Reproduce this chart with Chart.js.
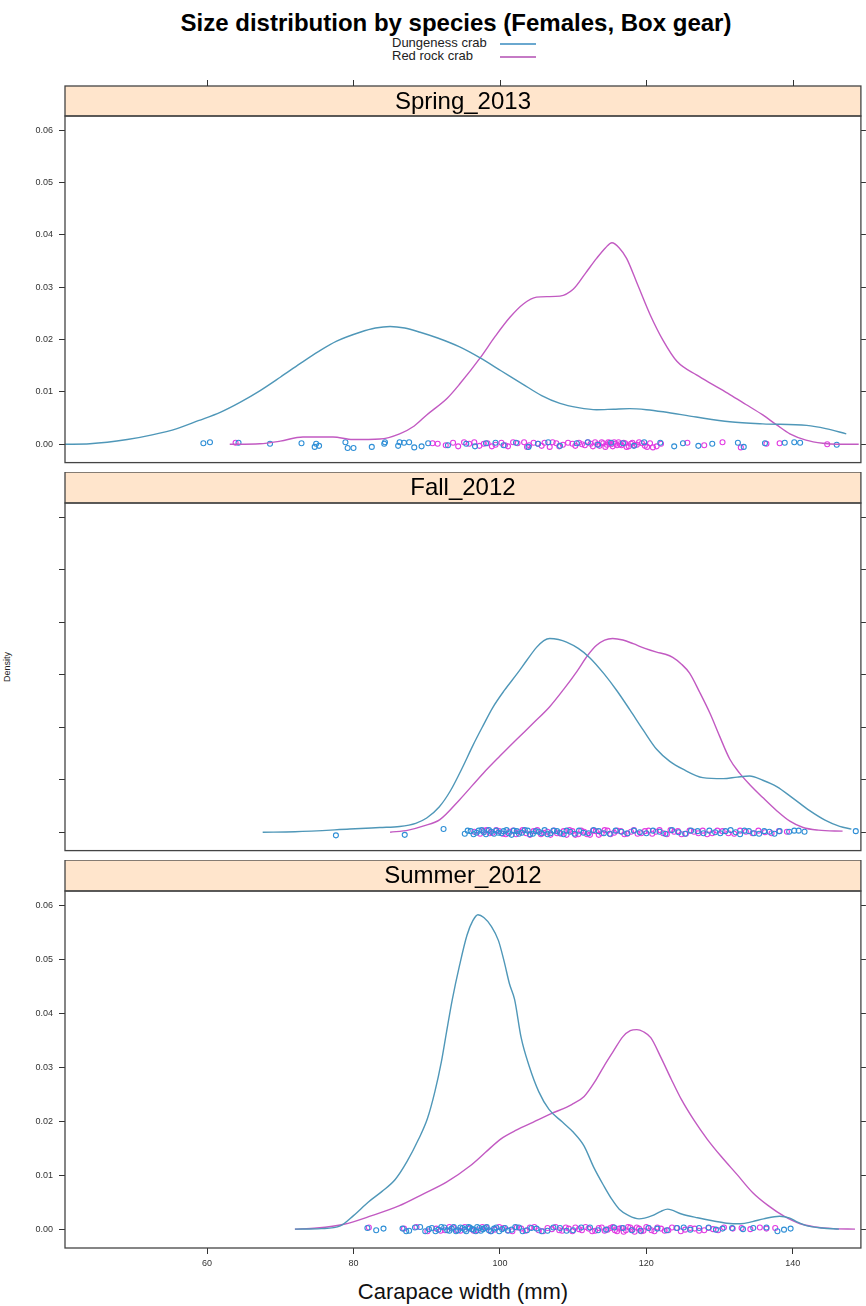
<!DOCTYPE html>
<html>
<head>
<meta charset="utf-8">
<script src="https://cdn.jsdelivr.net/npm/chart.js@4.4.1/dist/chart.umd.min.js"></script>
<style>
  html, body { margin:0; padding:0; background:#fff; }
  #wrap { position:relative; width:866px; height:1306px; overflow:hidden; font-family:"Liberation Sans", Arial, sans-serif; }
  canvas { position:absolute; left:0; }
  .txt { position:absolute; white-space:nowrap; color:#000; }
</style>
</head>
<body>
<div id="wrap">
  <div class="txt" id="title" style="left:0; width:912px; text-align:center; top:9px; font-weight:bold; font-size:24px;">Size distribution by species (Females, Box gear)</div>
  <div class="txt" style="left:392px; top:35px; font-size:13px; color:#222;">Dungeness crab</div>
  <div class="txt" style="left:392px; top:48px; font-size:13px; color:#222;">Red rock crab</div>
  <div style="position:absolute; left:500px; top:43px; width:36px; height:2px; background:#6aa8cf;"></div>
  <div style="position:absolute; left:500px; top:56px; width:36px; height:2px; background:#c57ac5;"></div>
  <div class="txt" style="left:-8px; top:662px; font-size:9px; transform:rotate(-90deg); color:#222;">Density</div>
  <div class="txt" style="left:65px; width:796px; text-align:center; top:1279px; font-size:22px; color:#111;">Carapace width (mm)</div>
  <canvas id="c1" width="866" height="398" style="top:76px;"></canvas>
  <canvas id="c2" width="866" height="390" style="top:472px;"></canvas>
  <canvas id="c3" width="866" height="420" style="top:860px;"></canvas>
</div>
<script>
// ---------- DATA ----------
const panels = ["Spring_2013", "Fall_2012", "Summer_2012"];
const speciesNames = ["Dungeness crab", "Red rock crab"];
const xTicks = [60, 80, 100, 120, 140];
const yTicks = [0, 0.01, 0.02, 0.03, 0.04, 0.05, 0.06];

// density curves [carapace width, density]
const springDung = [[40.6,0],[44,0.0001],[49.1,0.0009],[52.5,0.0018],[55.9,0.003],[58.8,0.0045],[61.8,0.0061],[64.5,0.008],[67.2,0.0102],[70,0.0128],[72.7,0.0154],[75.2,0.0177],[77.7,0.0197],[80.9,0.0214],[83,0.0222],[85,0.0225],[87,0.0222],[89.1,0.0214],[91.5,0.0203],[94.5,0.0186],[97.3,0.0165],[100.2,0.014],[103.1,0.0115],[105.7,0.0093],[108.2,0.0078],[110.7,0.007],[113.2,0.0066],[115.5,0.0067],[117.7,0.0068],[120,0.0066],[122.3,0.0062],[126.8,0.0052],[131.4,0.0043],[135.9,0.0039],[141.9,0.0036],[144.5,0.003],[147.3,0.002]];
const springRed = [[63.1,0],[67.2,0.0001],[70,0.0006],[73.1,0.0014],[77.2,0.0014],[79.9,0.0009],[83.6,0.001],[86.3,0.002],[88.3,0.0035],[90,0.0056],[92.8,0.0088],[94.5,0.0115],[97.3,0.0165],[99.4,0.0207],[101.4,0.0243],[103.2,0.0268],[105,0.0281],[106.6,0.0282],[108.2,0.0283],[110,0.0296],[111.7,0.0327],[113.2,0.0355],[114.4,0.0375],[115.3,0.0385],[116.3,0.0375],[117.3,0.0355],[118.8,0.0305],[120.5,0.0248],[122.3,0.0198],[124.2,0.0158],[126.9,0.0132],[129.2,0.0113],[131.4,0.0095],[133.6,0.0076],[135.9,0.0056],[137.8,0.0037],[139.6,0.002],[141.8,0.0008],[144.1,0.0002],[146,0],[149,0]];
const fallDung = [[67.6,0],[72,0.0001],[79.5,0.0006],[83.6,0.0009],[86.3,0.0011],[88.5,0.0017],[90,0.0027],[91.7,0.0048],[93.2,0.0078],[94.8,0.0121],[96.3,0.0165],[97.7,0.0203],[99,0.0237],[100.6,0.027],[102.3,0.0301],[103.7,0.0328],[105,0.0352],[106,0.0365],[106.8,0.0369],[108,0.0367],[109.1,0.0362],[110.7,0.035],[112.3,0.0332],[114.2,0.0302],[116,0.0269],[117.8,0.0232],[119.6,0.0194],[121.4,0.0158],[123.2,0.0135],[125,0.012],[127.7,0.0104],[130.5,0.0102],[132.4,0.0105],[134.1,0.0107],[135.9,0.0099],[137.8,0.0087],[140,0.0065],[142.3,0.0041],[144.4,0.0023],[146.4,0.0011],[148,0.0006]];
const fallRed = [[85,0],[87.5,0.0004],[89.6,0.0012],[91.8,0.0024],[94.5,0.0062],[97.7,0.0112],[100,0.0145],[102.3,0.0177],[104.5,0.0207],[106.8,0.0239],[108.7,0.0272],[110.5,0.0306],[112,0.0337],[113.2,0.0356],[114.3,0.0366],[115.4,0.0369],[116.8,0.0366],[118.2,0.0359],[119.8,0.035],[121.4,0.0343],[122.6,0.0339],[123.6,0.0333],[124.8,0.032],[125.9,0.0303],[127.3,0.0266],[128.7,0.0226],[130,0.0183],[131.4,0.0139],[132.7,0.0113],[134.1,0.0091],[135.9,0.0066],[137.8,0.0041],[139.6,0.0021],[141.4,0.0009],[143.5,0.0004],[146.8,0.0002]];
const summerDung = [[72,0],[75.6,0.0001],[78.2,0.0006],[80,0.0025],[82,0.005],[83.9,0.007],[85.7,0.0092],[87.3,0.0125],[88.9,0.0167],[90.1,0.0205],[91.1,0.0254],[92,0.031],[92.7,0.0365],[93.5,0.0426],[94.5,0.049],[95.5,0.0545],[96.3,0.0572],[97,0.0583],[97.8,0.0578],[98.8,0.0562],[99.8,0.0535],[100.6,0.0495],[101.3,0.0455],[102,0.0426],[102.9,0.0355],[104,0.0302],[105.3,0.0255],[106.7,0.0222],[108.5,0.0199],[110,0.018],[111.5,0.0154],[112.8,0.0115],[114.2,0.008],[115.3,0.0055],[116.3,0.0037],[117.6,0.0025],[119,0.0019],[120.8,0.0025],[122,0.0033],[122.9,0.0037],[124.8,0.0028],[127,0.0021],[129.2,0.0015],[131,0.0011],[132.9,0.001],[134.5,0.0014],[136,0.0019],[138.2,0.0024],[139.5,0.0021],[140.5,0.0014],[142,0.0006],[144,0.0002],[146.3,0]];
const summerRed = [[72,0],[75,0.0002],[78.7,0.0009],[82.5,0.0025],[86.2,0.0043],[89.5,0.0065],[92.7,0.0087],[95.9,0.0117],[98,0.0142],[100.1,0.0167],[102.3,0.0184],[104.5,0.0198],[107,0.0214],[109.8,0.0231],[111.5,0.0246],[112.9,0.0272],[114.2,0.0302],[115.5,0.033],[116.8,0.0357],[117.8,0.0368],[118.7,0.037],[119.6,0.0366],[120.6,0.0355],[122,0.0318],[123.4,0.0278],[124.8,0.024],[126.5,0.0202],[128.3,0.0167],[130.2,0.0135],[132.4,0.0101],[134.5,0.0068],[136.6,0.0044],[138.8,0.0024],[141,0.001],[143.1,0.0004],[145.5,0.0001],[148.5,0]];

// jittered observations [carapace width, jittered offset]
const springDungPts = [[59.5,0.0002],[60.4,0.0004],[64.3,0.0003],[68.6,0.0001],[72.9,0.0002],[74.7,-0.0005],[74.9,0.0001],[75.3,-0.0003],[78.9,0.0004],[79.2,-0.0007],[80,-0.0007],[82.5,-0.0005],[84.2,0.0001],[84.3,0.0004],[86.1,-0.0003],[86.3,0.0004],[86.9,0.0003],[87.6,0.0004],[88.3,-0.0006],[89.3,-0.0004],[90.2,0.0002],[92.9,-0.0002],[95.4,0.0001],[96.6,-0.0004],[98.1,0.0002],[99.4,0.0003],[100.5,-0.0002],[102.2,0.0003],[103.9,-0.0005],[105.2,0.0001],[106.6,0.0004],[108.2,-0.0003],[110.5,0.0002],[112.0,0.0004],[113.4,-0.0001],[115.2,0.0003],[116.8,0.0002],[118.3,-0.0003],[119.7,0.0004],[121.9,0.0003],[123.8,-0.0004],[125,0.0002],[127.1,-0.0003],[129,0.0001],[132.5,0.0003],[133.3,-0.0005],[136.2,0.0002],[138.9,0.0003],[140.2,0.0004],[141,0.0003],[146,-0.0001]];
const springRedPts = [[63.9,0.0003],[90.8,0.0002],[91.5,0.0001],[92.6,-0.0002],[93.6,0.0003],[94.3,-0.0004],[95.1,0.0004],[95.8,0.0001],[96.5,0.0004],[97.2,-0.0003],[97.8,0.0001],[98.3,0.0002],[98.9,-0.0004],[99.4,-0.0001],[100.2,0.0003],[100.7,-0.0002],[101.1,-0.0004],[101.8,0.0004],[102.4,0.0002],[103.3,0.0004],[103.7,-0.0005],[104,-0.0002],[104.6,0.0003],[105.2,0.0001],[105.7,-0.0003],[106.1,0.0003],[106.8,-0.0005],[107.2,0.0004],[107.7,0.0002],[108.1,-0.0004],[108.6,-0.0001],[109.3,0.0003],[109.9,0.0001],[110.3,-0.0003],[110.8,0.0003],[111.2,0.0000],[111.6,-0.0002],[112.0,0.0004],[112.4,0.0001],[112.7,-0.0004],[113,0.0004],[113.3,0.0000],[113.6,-0.0003],[113.9,0.0004],[114.1,0.0002],[114.4,-0.0005],[114.6,-0.0001],[114.8,0.0004],[115,0.0003],[115.2,0.0000],[115.4,-0.0004],[115.6,0.0004],[115.8,0.0001],[116,-0.0002],[116.2,0.0004],[116.4,0.0000],[116.6,-0.0002],[116.9,0.0003],[117.1,0.0002],[117.3,-0.0005],[117.6,-0.0004],[117.9,0.0001],[118.1,0.0003],[118.4,-0.0002],[118.7,-0.0001],[119,0.0004],[119.4,0.0002],[119.8,-0.0003],[120.1,-0.0005],[120.5,0.0002],[120.9,-0.0006],[121.4,-0.0004],[122,0.0001],[125.6,0.0003],[127.9,-0.0002],[130.4,0.0004],[132.9,-0.0006],[136.4,0.0001],[138.2,0.0002],[144.7,0]];
const fallDungPts = [[77.6,-0.0006],[87,-0.0005],[92.3,0.0006],[95.2,-0.0003],[95.6,0.0003],[96,0.0002],[96.4,-0.0004],[96.8,-0.0001],[97.1,0.0003],[97.5,0.0004],[97.8,0.0000],[98.1,-0.0004],[98.5,0.0004],[98.8,0.0001],[99.2,-0.0003],[99.5,0.0003],[99.8,-0.0001],[100.2,-0.0002],[100.5,0.0002],[100.9,0.0004],[101.2,-0.0002],[101.6,-0.0005],[101.9,0.0003],[102.3,0.0002],[102.6,-0.0003],[103,-0.0001],[103.4,0.0004],[103.8,0.0003],[104.1,-0.0004],[104.5,-0.0003],[104.9,0.0002],[105.3,0.0001],[105.7,-0.0002],[106.1,0.0004],[106.5,-0.0004],[106.9,-0.0002],[107.3,0.0003],[107.8,0.0002],[108.2,-0.0001],[108.7,-0.0004],[109.1,0.0003],[109.6,0.0001],[110.2,-0.0003],[110.8,0.0003],[111.4,-0.0001],[112.1,-0.0002],[112.8,0.0004],[113.5,0.0002],[114.2,-0.0002],[115,-0.0003],[115.8,0.0003],[116.6,0.0001],[117.4,-0.0002],[118.3,0.0003],[119.1,0.0000],[120,-0.0002],[120.9,0.0003],[121.8,0.0001],[122.6,-0.0003],[123.5,0.0004],[124.4,0.0000],[125.3,-0.0003],[126.1,0.0003],[127,0.0002],[127.8,-0.0002],[128.6,0.0003],[129.4,0.0000],[130.1,-0.0002],[130.8,0.0002],[131.5,0.0004],[132.2,0.0000],[132.8,-0.0004],[133.4,0.0003],[134,0.0002],[134.7,-0.0002],[135.4,-0.0003],[136.1,0.0002],[136.8,0.0001],[137.5,-0.0003],[138.2,0.0002],[139.5,0.0001],[140.2,0.0003],[140.8,0.0003],[141.6,0.0001],[148.6,0.0002]];
const fallRedPts = [[96.5,0.0001],[97.3,-0.0003],[97.8,0.0003],[98.2,0.0004],[98.6,-0.0002],[99,-0.0001],[99.5,0.0004],[99.9,0.0002],[100.4,-0.0003],[100.8,-0.0004],[101.3,0.0001],[101.8,0.0003],[102.2,-0.0004],[102.7,0.0001],[103.1,0.0004],[103.6,-0.0002],[104.1,-0.0005],[104.6,0.0002],[105.1,0.0004],[105.6,-0.0004],[106,-0.0001],[106.5,0.0001],[106.9,-0.0005],[107.4,0.0003],[107.8,-0.0002],[108.3,-0.0003],[108.7,0.0002],[109.1,-0.0005],[109.5,0.0004],[109.9,0.0002],[110.3,-0.0005],[110.7,-0.0004],[111.1,0.0003],[111.5,0.0001],[111.9,-0.0004],[112.3,-0.0005],[112.7,0.0003],[113.1,0.0002],[113.5,-0.0005],[113.9,-0.0002],[114.3,0.0004],[114.7,0.0003],[115.1,-0.0004],[115.6,-0.0001],[116,0.0003],[116.5,0.0002],[117,-0.0004],[117.4,-0.0003],[117.9,0.0001],[118.3,0.0004],[118.8,-0.0003],[119.3,-0.0002],[119.8,0.0002],[120.3,0.0003],[120.8,-0.0003],[121.3,0.0001],[121.8,0.0004],[122.3,-0.0002],[122.8,-0.0004],[123.3,0.0004],[123.8,0.0001],[124.3,0.0002],[124.8,-0.0004],[125.4,-0.0003],[125.9,0.0003],[126.5,0.0001],[127.1,-0.0002],[127.7,0.0003],[128.3,-0.0004],[129,-0.0002],[129.7,0.0003],[130.4,0.0002],[131.2,-0.0002],[132,-0.0003],[132.8,0.0003],[133.6,0.0001],[134.5,-0.0002],[135.3,0.0003],[136.2,0.0000],[137.1,-0.0002],[138.1,0.0002],[139.2,0.0001]];
const summerDungPts = [[81.9,0.0002],[83.1,-0.0002],[84.1,0.0001],[86.7,0.0001],[87.2,-0.0004],[87.6,-0.0003],[88.4,0.0003],[89.1,0.0004],[89.8,-0.0004],[90.3,0.0000],[90.7,0.0002],[91.2,-0.0004],[91.6,-0.0001],[92,0.0004],[92.4,0.0003],[92.8,-0.0002],[93.1,-0.0003],[93.4,0.0001],[93.7,0.0004],[94,-0.0004],[94.3,-0.0002],[94.6,0.0003],[94.9,0.0002],[95.2,-0.0001],[95.4,-0.0004],[95.7,0.0004],[95.9,0.0003],[96.2,0.0000],[96.4,-0.0001],[96.7,-0.0004],[96.9,0.0004],[97.2,0.0002],[97.4,-0.0003],[97.7,0.0000],[97.9,0.0002],[98.2,0.0004],[98.5,-0.0002],[98.8,-0.0004],[99.2,0.0001],[99.5,0.0003],[99.9,-0.0004],[100.3,0.0000],[100.7,0.0002],[101.1,-0.0003],[101.6,-0.0001],[102.1,0.0004],[102.6,0.0003],[103.1,-0.0004],[103.7,-0.0002],[104.3,0.0002],[105,0.0001],[105.7,-0.0004],[106.5,-0.0003],[107.3,0.0003],[108.2,0.0002],[109.1,-0.0003],[110,-0.0002],[111.1,0.0003],[112.3,0.0003],[113.4,-0.0002],[114.5,-0.0001],[115.6,0.0003],[116.8,0.0002],[118,-0.0002],[119.2,-0.0003],[120.3,0.0002],[121.5,0.0001],[122.8,-0.0002],[124.2,0.0002],[125.1,0.0003],[126,-0.0001],[127.2,0.0002],[128.5,0.0003],[129.5,-0.0001],[130.4,0.0001],[131.7,0.0002],[133.2,0],[134.6,0.0002],[136.4,0.0003],[137.9,-0.0004],[138.8,-0.0001],[139.7,0.0001]];
const summerRedPts = [[82.1,0.0003],[86.9,0.0001],[88.6,0.0004],[90.1,-0.0004],[91.3,0.0001],[91.9,-0.0003],[92.5,-0.0002],[93.1,0.0004],[93.6,0.0003],[94.1,-0.0002],[94.6,-0.0003],[95.2,0.0004],[95.8,0.0001],[96.4,-0.0003],[97,-0.0002],[97.6,0.0004],[98.1,0.0003],[98.7,-0.0004],[99.3,-0.0001],[99.9,0.0004],[100.5,0.0002],[101.1,-0.0002],[101.7,-0.0004],[102.3,0.0003],[102.9,0.0001],[103.5,-0.0003],[104.1,0.0003],[104.7,0.0004],[105.3,-0.0002],[105.9,-0.0004],[106.5,0.0002],[107.1,0.0000],[107.6,0.0004],[108.1,-0.0002],[108.5,-0.0003],[109,0.0003],[109.4,0.0001],[109.9,-0.0004],[110.3,0.0003],[110.8,0.0000],[111.2,-0.0002],[111.7,0.0004],[112.1,0.0001],[112.6,-0.0004],[113,-0.0003],[113.5,0.0002],[113.9,0.0003],[114.3,-0.0003],[114.7,-0.0001],[115.1,0.0002],[115.4,0.0004],[115.7,-0.0002],[116,-0.0004],[116.3,0.0001],[116.6,0.0002],[116.9,-0.0005],[117.2,-0.0002],[117.5,0.0004],[117.8,0.0003],[118.1,-0.0001],[118.4,-0.0005],[118.7,0.0003],[119,0.0001],[119.3,-0.0004],[119.6,-0.0003],[120,0.0004],[120.3,0.0002],[120.7,-0.0002],[121.1,-0.0004],[121.5,0.0003],[122,0.0001],[122.5,-0.0003],[123,-0.0002],[123.5,0.0003],[124.1,0.0002],[124.7,-0.0004],[125.3,-0.0001],[126,0.0002],[126.6,0.0001],[127.2,-0.0003],[127.9,-0.0002],[128.5,0.0002],[129.1,0],[129.8,-0.0002],[130.6,0.0003],[131.8,0.0001],[133,0.0002],[134.2,0.0000],[135.5,0.0003],[136.4,0.0001],[137.6,0.0002]];

const xMin = 40.6, xMax = 149.3, yMin = -0.0035, yMax = 0.0627;
const dungLine = "#4f97b8", redLine = "#c25ac2";
const dungPt = "#2f8fd6", redPt = "#e23be2";

// ---------- CHARTS ----------
const FONT = "'Liberation Sans', Arial, sans-serif";
const toXY = arr => arr.map(p => ({x: p[0], y: p[1]}));

const panelPlugin = {
  id: 'panelDeco',
  afterDraw(chart, args, opts) {
    const ctx = chart.ctx;
    const a = chart.chartArea;
    const sh = opts.stripH;
    ctx.save();
    ctx.fillStyle = '#ffe5cc';
    ctx.fillRect(a.left, a.top - sh, a.right - a.left, sh);
    ctx.strokeStyle = '#444';
    ctx.lineWidth = 1.3;
    ctx.strokeRect(a.left, a.top - sh, a.right - a.left, sh);
    ctx.fillStyle = '#000';
    ctx.font = "24px " + FONT;
    ctx.textAlign = 'center';
    ctx.textBaseline = 'middle';
    ctx.fillText(opts.label, (a.left + a.right) / 2, a.top - sh / 2 + 1);
    ctx.strokeStyle = '#444';
    ctx.strokeRect(a.left, a.top, a.right - a.left, a.bottom - a.top);
    if (opts.topTicks) {
      const xs = chart.scales.x;
      ctx.strokeStyle = '#333';
      ctx.lineWidth = 1;
      xTicks.forEach(v => {
        const px = Math.round(xs.getPixelForValue(v)) + 0.5;
        ctx.beginPath();
        ctx.moveTo(px, a.top - sh);
        ctx.lineTo(px, a.top - sh - 6);
        ctx.stroke();
      });
    }
    ctx.restore();
  }
};

function makeChart(id, idx, curveD, curveR, ptsD, ptsR, cfg) {
  const datasets = [
    {label: speciesNames[0], data: toXY(curveD), showLine: true, borderColor: dungLine, borderWidth: 1.4, pointRadius: 0, tension: 0, cubicInterpolationMode: 'monotone', order: 1},
    {label: speciesNames[1], data: toXY(curveR), showLine: true, borderColor: redLine, borderWidth: 1.4, pointRadius: 0, tension: 0, cubicInterpolationMode: 'monotone', order: 1},
    {label: speciesNames[0] + ' obs', data: toXY(ptsD), showLine: false, pointRadius: 2.5, pointBorderWidth: 1.1, pointBorderColor: dungPt, pointBackgroundColor: 'rgba(0,0,0,0)', order: 2},
    {label: speciesNames[1] + ' obs', data: toXY(ptsR), showLine: false, pointRadius: 2.5, pointBorderWidth: 1.1, pointBorderColor: redPt, pointBackgroundColor: 'rgba(0,0,0,0)', order: 2}
  ];
  return new Chart(document.getElementById(id), {
    type: 'scatter',
    data: {datasets},
    plugins: [panelPlugin],
    options: {
      responsive: false,
      animation: false,
      devicePixelRatio: 1,
      layout: {padding: {top: cfg.padTop, left: 0, right: 0, bottom: 0}},
      plugins: {
        legend: {display: false},
        tooltip: {enabled: false},
        panelDeco: {label: panels[idx], stripH: cfg.stripH, topTicks: cfg.topTicks}
      },
      scales: {
        x: {
          type: 'linear', min: xMin, max: xMax, position: 'bottom',
          display: cfg.showX,
          afterBuildTicks: s => { s.ticks = xTicks.map(v => ({value: v})); },
          afterFit: s => { if (cfg.showX) s.height = 32; },
          grid: {drawOnChartArea: false, drawTicks: true, tickLength: 6, tickColor: '#333', tickWidth: 1},
          border: {display: false},
          ticks: {font: {family: FONT, size: 9}, color: '#333', padding: 4, maxRotation: 0, callback: v => String(v)}
        },
        y: {
          type: 'linear', min: yMin, max: yMax, position: 'left',
          afterBuildTicks: s => { s.ticks = yTicks.map(v => ({value: v})); },
          afterFit: s => { s.width = 65; },
          grid: {drawOnChartArea: false, drawTicks: true, tickLength: 6, tickColor: '#333', tickWidth: 1},
          border: {display: false},
          ticks: {font: {family: FONT, size: 9}, color: '#333', padding: 6,
                  callback: v => cfg.leftLabels ? Number(v).toFixed(2) : ''}
        },
        y2: {
          type: 'linear', min: yMin, max: yMax, position: 'right',
          afterBuildTicks: s => { s.ticks = yTicks.map(v => ({value: v})); },
          afterFit: s => { s.width = 5; },
          grid: {drawOnChartArea: false, drawTicks: true, tickLength: 5, tickColor: '#333', tickWidth: 1},
          border: {display: false},
          ticks: {display: false}
        }
      }
    }
  });
}

makeChart('c1', 0, springDung, springRed, springDungPts, springRedPts, {padTop: 40, stripH: 30, topTicks: true, showX: false, leftLabels: true});
makeChart('c2', 1, fallDung, fallRed, fallDungPts, fallRedPts, {padTop: 31, stripH: 31, topTicks: false, showX: false, leftLabels: false});
makeChart('c3', 2, summerDung, summerRed, summerDungPts, summerRedPts, {padTop: 31, stripH: 31, topTicks: false, showX: true, leftLabels: true});
</script>
</body>
</html>
